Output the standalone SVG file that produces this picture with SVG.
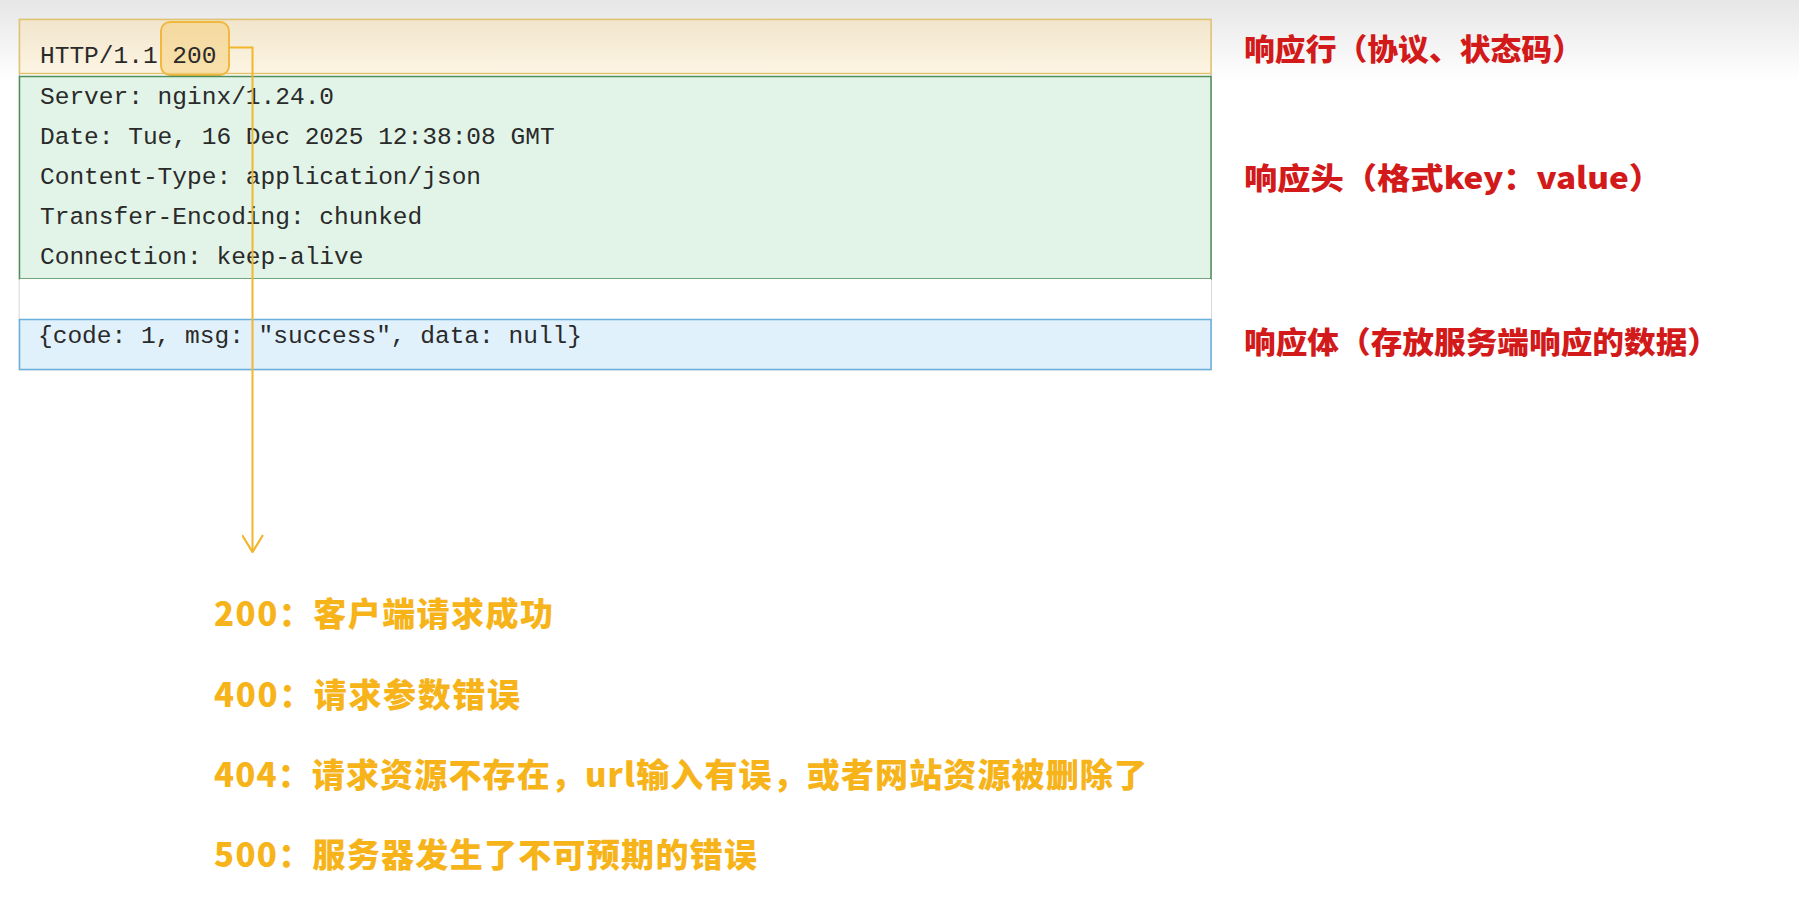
<svg xmlns="http://www.w3.org/2000/svg" width="1799" height="904" viewBox="0 0 1799 904">
  <style>
    .mono { font-family: "Liberation Mono", "DejaVu Sans Mono", monospace; font-size: 24.5px; fill: #2a2a2a; }
    .red { font-family: "Noto Sans CJK SC", "Noto Sans", sans-serif; font-weight: 900; font-size: 30px; fill: #d21a1a; }
    .gold { font-family: "Noto Sans CJK SC", "Noto Sans", sans-serif; font-weight: 900; font-size: 33px; fill: #f6b41a; }
    .conn { fill: none; stroke: #f2b52c; stroke-width: 2; }
  </style>
  <defs>
    <linearGradient id="bg" x1="0" y1="0" x2="0" y2="1" gradientUnits="objectBoundingBox">
      <stop offset="0" stop-color="#e6e6e6"/>
      <stop offset="0.09" stop-color="#ffffff"/>
      <stop offset="1" stop-color="#ffffff"/>
    </linearGradient>
    <linearGradient id="yel" x1="0" y1="0" x2="0" y2="1">
      <stop offset="0" stop-color="#f1e5cc"/>
      <stop offset="1" stop-color="#fdf5e3"/>
    </linearGradient>
    <marker id="vArrow" markerWidth="20" markerHeight="22" refX="17" refY="10" orient="auto" markerUnits="userSpaceOnUse" viewBox="0 0 18 20">
      <path d="M1.5,0.5 L17,10 L1.5,19.5" fill="none" stroke="#f2b52c" stroke-width="2"/>
    </marker>
  </defs>

  <rect x="0" y="0" width="1799" height="904" fill="url(#bg)"/>

  <g id="message-frame">
    <rect x="19.5" y="19.5" width="1191.5" height="350" fill="#ffffff" stroke="#c9c9c9" stroke-width="1.5"/>
  </g>

  <g id="status-line">
    <rect x="19.5" y="19.5" width="1191.5" height="54" fill="url(#yel)" stroke="#e3c46e" stroke-width="1.5"/>
    <rect id="status-highlight" x="161" y="22" width="68" height="53" rx="9" ry="9" fill="#f6cf7c" fill-opacity="0.55" stroke="#f1b840" stroke-width="2"/>
    <text class="mono" x="40" y="63">HTTP/1.1 200</text>
  </g>

  <g id="headers">
    <rect x="19.5" y="76.5" width="1191.5" height="202.5" fill="#e2f4e8" stroke="#4f8d5b" stroke-width="1.5"/>
    <text class="mono" x="40" y="104">Server: nginx/1.24.0</text>
    <text class="mono" x="40" y="144">Date: Tue, 16 Dec 2025 12:38:08 GMT</text>
    <text class="mono" x="40" y="184">Content-Type: application/json</text>
    <text class="mono" x="40" y="224">Transfer-Encoding: chunked</text>
    <text class="mono" x="40" y="264">Connection: keep-alive</text>
  </g>

  <g id="blank-line">
    <rect x="19.5" y="279" width="1191.5" height="40" fill="#ffffff" stroke="none"/>
  </g>

  <g id="body">
    <rect x="19.5" y="319.5" width="1191.5" height="50" fill="#e0f1fc" stroke="#6aafdb" stroke-width="1.5"/>
    <text class="mono" x="38" y="343">{code: 1, msg: "success", data: null}</text>
  </g>

  <g id="connectors">
    <path class="conn" d="M229,47.5 H252.5 V552" marker-end="url(#vArrow)"/>
  </g>

  <g id="label-status-line">
    <text class="red" x="1244" y="60" textLength="339" lengthAdjust="spacingAndGlyphs">响应行（协议、状态码）</text>
  </g>
  <g id="label-headers">
    <text class="red" x="1244" y="189" textLength="418" lengthAdjust="spacingAndGlyphs">响应头（格式key：value）</text>
  </g>
  <g id="label-body">
    <text class="red" x="1244" y="353" textLength="475" lengthAdjust="spacingAndGlyphs">响应体（存放服务端响应的数据）</text>
  </g>

  <g id="code-200">
    <text class="gold" x="214" y="626" textLength="339" lengthAdjust="spacing">200：客户端请求成功</text>
  </g>
  <g id="code-400">
    <text class="gold" x="214" y="707" textLength="306" lengthAdjust="spacing">400：请求参数错误</text>
  </g>
  <g id="code-404">
    <text class="gold" x="214" y="787" textLength="933" lengthAdjust="spacing">404：请求资源不存在，url输入有误，或者网站资源被删除了</text>
  </g>
  <g id="code-500">
    <text class="gold" x="214" y="867" textLength="543" lengthAdjust="spacing">500：服务器发生了不可预期的错误</text>
  </g>
</svg>
